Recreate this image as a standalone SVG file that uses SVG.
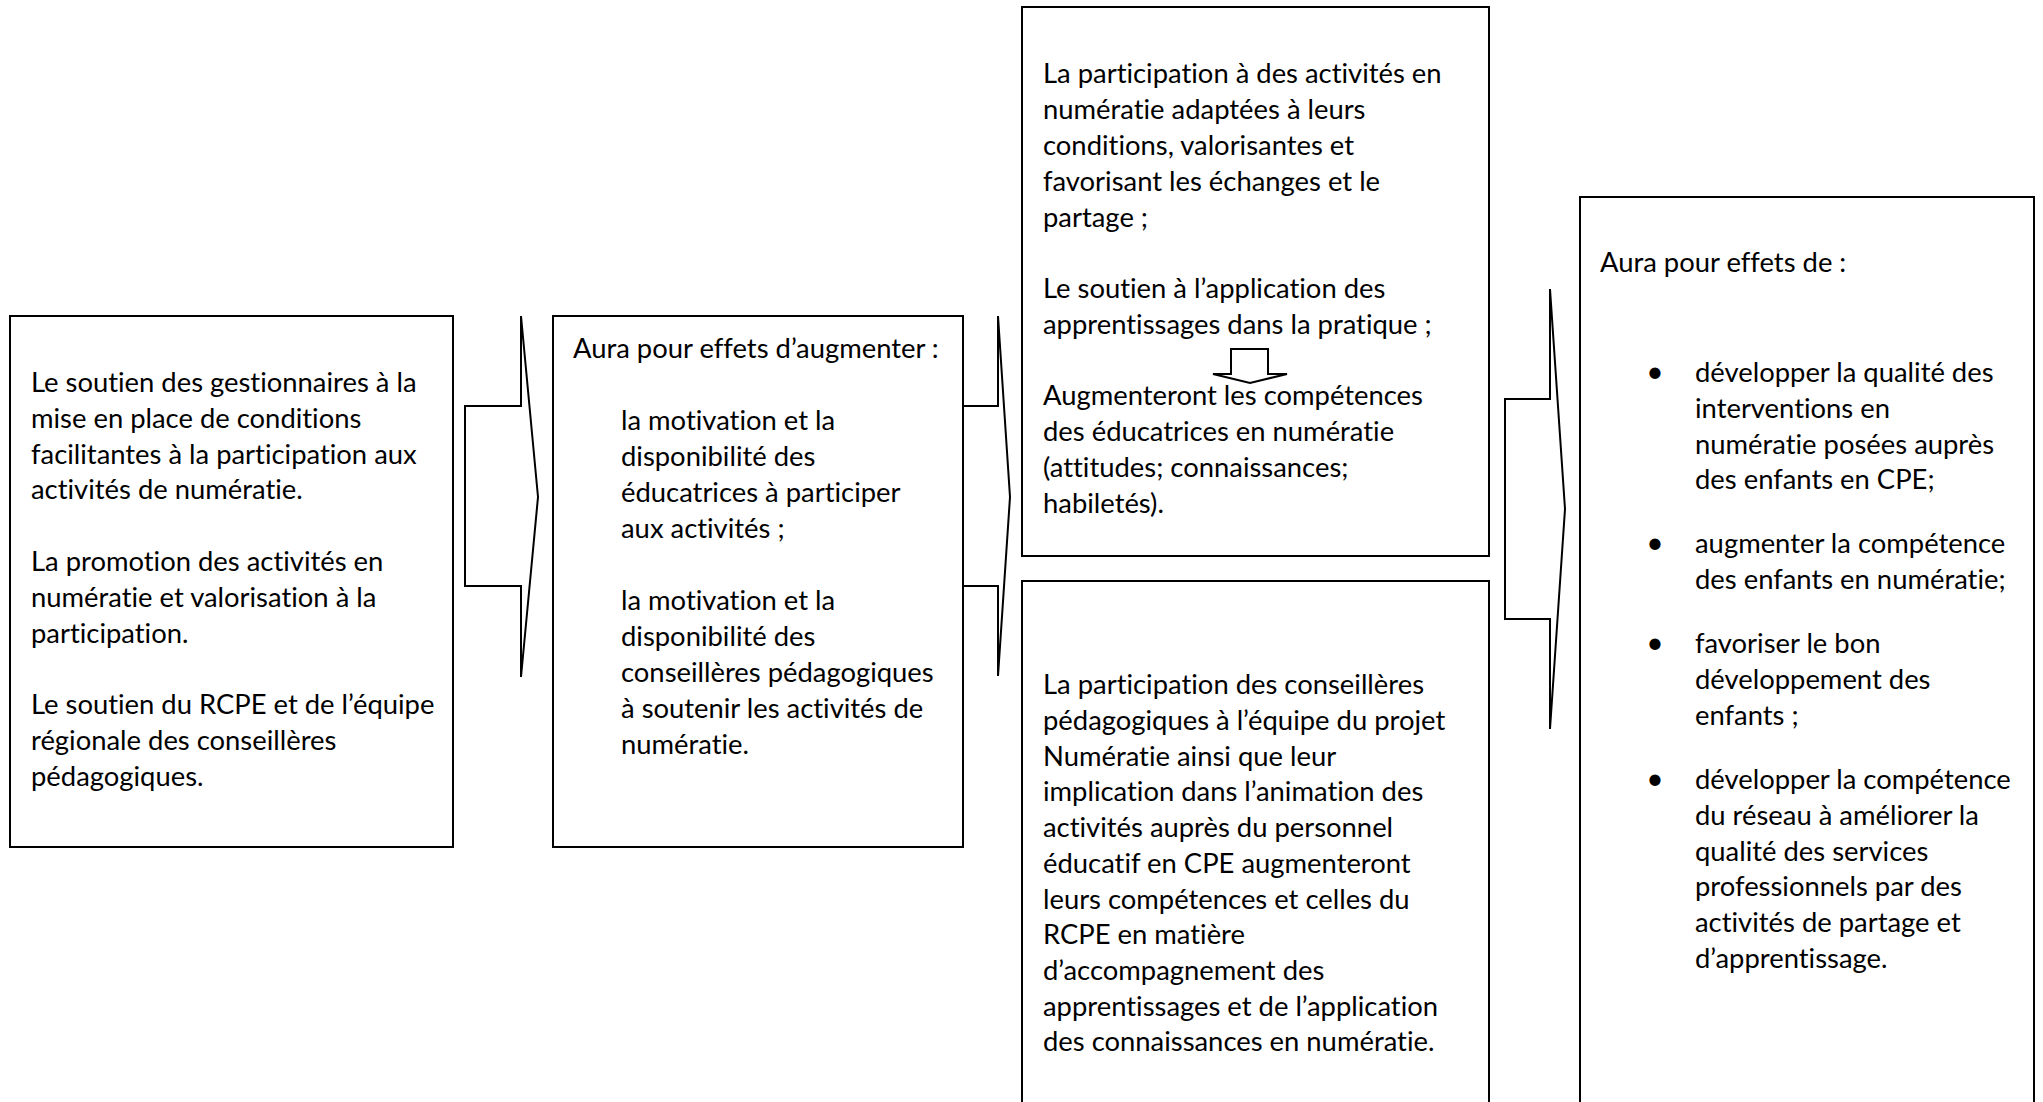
<svg xmlns="http://www.w3.org/2000/svg" width="2043" height="1102" viewBox="0 0 2043 1102">
<style>
.box{fill:#fff;stroke:#000;stroke-width:2}
.arr{fill:#fff;stroke:#000;stroke-width:2;stroke-linejoin:miter}
text{font-family:Lato,"Liberation Sans",sans-serif;font-size:27.4px;fill:#000;font-variant-ligatures:none;font-feature-settings:"liga" 0}
.bul{text-anchor:middle;font-size:30px}
</style>
<rect width="2043" height="1102" fill="#fff"/>
<g id="connectors">
<polygon class="arr" points="465,406 521,406 521,316 538,497 521,677 521,586 465,586"/>
<polygon class="arr" points="963,406 998,406 998,316 1010,497 998,676 998,586 963,586"/>
<polygon class="arr" points="1505,399 1550,399 1550,289 1565,509 1550,729 1550,619 1505,619"/>
</g>
<g id="node1">
<rect class="box" x="10" y="316" width="443" height="531"/>
<text x="31" y="392">Le soutien des gestionnaires à la</text>
<text x="31" y="428">mise en place de conditions</text>
<text x="31" y="464">facilitantes à la participation aux</text>
<text x="31" y="499">activités de numératie.</text>
<text x="31" y="571">La promotion des activités en</text>
<text x="31" y="607">numératie et valorisation à la</text>
<text x="31" y="643">participation.</text>
<text x="31" y="714">Le soutien du RCPE et de l’équipe</text>
<text x="31" y="750">régionale des conseillères</text>
<text x="31" y="786">pédagogiques.</text>
</g>
<g id="node2">
<rect class="box" x="553" y="316" width="410" height="531"/>
<text x="573" y="358">Aura pour effets d’augmenter :</text>
<text x="621" y="430">la motivation et la</text>
<text x="621" y="466">disponibilité des</text>
<text x="621" y="502">éducatrices à participer</text>
<text x="621" y="538">aux activités ;</text>
<text x="621" y="610">la motivation et la</text>
<text x="621" y="646">disponibilité des</text>
<text x="621" y="682">conseillères pédagogiques</text>
<text x="621" y="718">à soutenir les activités de</text>
<text x="621" y="754">numératie.</text>
</g>
<g id="node3">
<rect class="box" x="1022" y="7" width="467" height="549"/>
<polygon class="arr" points="1231,349 1268,349 1268,374 1287,374 1250,383 1213,374 1231,374"/>
<text x="1043" y="83">La participation à des activités en</text>
<text x="1043" y="119">numératie adaptées à leurs</text>
<text x="1043" y="155">conditions, valorisantes et</text>
<text x="1043" y="191">favorisant les échanges et le</text>
<text x="1043" y="227">partage ;</text>
<text x="1043" y="298">Le soutien à l’application des</text>
<text x="1043" y="334">apprentissages dans la pratique ;</text>
<text x="1043" y="405">Augmenteront les compétences</text>
<text x="1043" y="441">des éducatrices en numératie</text>
<text x="1043" y="477">(attitudes; connaissances;</text>
<text x="1043" y="513">habiletés).</text>
</g>
<g id="node4">
<rect class="box" x="1022" y="581" width="467" height="540"/>
<text x="1043" y="694">La participation des conseillères</text>
<text x="1043" y="730">pédagogiques à l’équipe du projet</text>
<text x="1043" y="766">Numératie ainsi que leur</text>
<text x="1043" y="801">implication dans l’animation des</text>
<text x="1043" y="837">activités auprès du personnel</text>
<text x="1043" y="873">éducatif en CPE augmenteront</text>
<text x="1043" y="909">leurs compétences et celles du</text>
<text x="1043" y="944">RCPE en matière</text>
<text x="1043" y="980">d’accompagnement des</text>
<text x="1043" y="1016">apprentissages et de l’application</text>
<text x="1043" y="1051">des connaissances en numératie.</text>
</g>
<g id="node5">
<rect class="box" x="1580" y="197" width="454" height="924"/>
<text x="1600" y="272">Aura pour effets de :</text>
<text class="bul" x="1655" y="382">•</text>
<text x="1695" y="382">développer la qualité des</text>
<text x="1695" y="418">interventions en</text>
<text x="1695" y="454">numératie posées auprès</text>
<text x="1695" y="489">des enfants en CPE;</text>
<text class="bul" x="1655" y="553">•</text>
<text x="1695" y="553">augmenter la compétence</text>
<text x="1695" y="589">des enfants en numératie;</text>
<text class="bul" x="1655" y="653">•</text>
<text x="1695" y="653">favoriser le bon</text>
<text x="1695" y="689">développement des</text>
<text x="1695" y="725">enfants ;</text>
<text class="bul" x="1655" y="789">•</text>
<text x="1695" y="789">développer la compétence</text>
<text x="1695" y="825">du réseau à améliorer la</text>
<text x="1695" y="861">qualité des services</text>
<text x="1695" y="896">professionnels par des</text>
<text x="1695" y="932">activités de partage et</text>
<text x="1695" y="968">d’apprentissage.</text>
</g>
</svg>
